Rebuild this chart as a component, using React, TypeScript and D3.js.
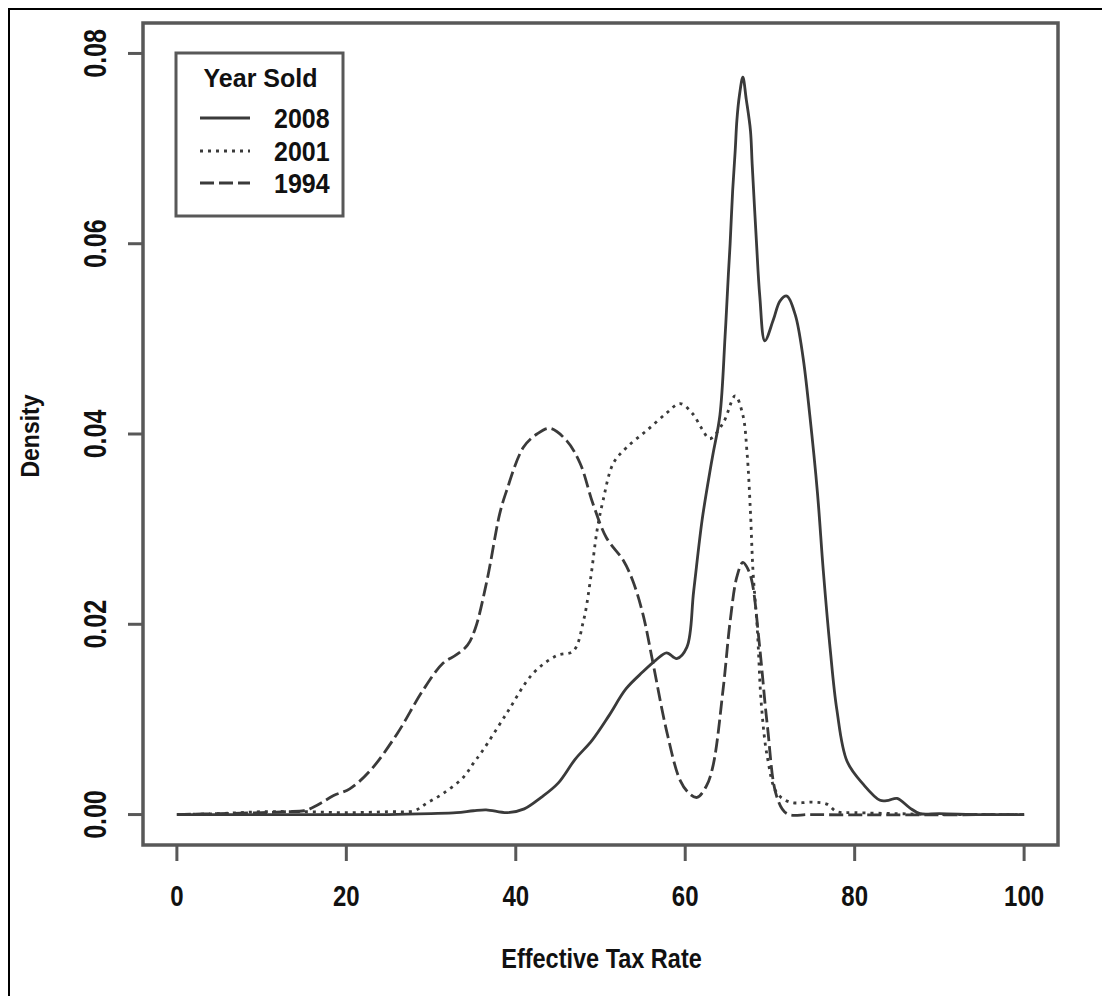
import React from "react";
import * as d3 from "d3";

// ---- data ----
const x2008 = [0, 10, 20, 25, 30, 33, 35, 36.5, 39, 41, 43, 45, 47, 49, 51, 53, 55, 56.5, 57.8, 59, 60.2, 61, 62, 63, 63.3, 64.1, 64.7, 65.1, 65.3, 65.6, 65.9, 66.1, 66.4, 66.8, 67.2, 67.7, 67.9, 68.4, 68.8, 69.4, 70.4, 71.2, 72, 73, 73.9, 74.7, 75.6, 76.3, 77.1, 77.9, 79.1, 81, 83, 84, 85, 86.5, 87.7, 90, 95, 100];
const y2008 = [0, 0, 0, 0, 0.0001, 0.0002, 0.0004, 0.0005, 0.0002, 0.0006, 0.0018, 0.0033, 0.0058, 0.0078, 0.0104, 0.0132, 0.015, 0.0162, 0.017, 0.0164, 0.0176, 0.0235, 0.031, 0.0365, 0.038, 0.042, 0.0502, 0.0569, 0.06, 0.0656, 0.0698, 0.073, 0.0756, 0.0775, 0.0752, 0.0719, 0.0684, 0.0603, 0.0545, 0.0498, 0.052, 0.054, 0.0545, 0.0525, 0.0481, 0.042, 0.0339, 0.0256, 0.0175, 0.011, 0.0056, 0.0032, 0.0015, 0.0015, 0.0017, 0.0007, 0.0001, 0.0001, 0, 0];

const x2001 = [0, 5, 10, 15, 20, 25, 28, 29.5, 31.4, 33.8, 35, 36, 38.9, 42, 44.8, 46.8, 48, 48.8, 49.6, 50.3, 51.5, 53.1, 55.5, 57.8, 59.4, 60.9, 62, 62.9, 64.5, 65.9, 66.8, 67.3, 67.7, 68, 68.5, 69, 69.7, 70.8, 72.4, 75.1, 76.7, 77.9, 80, 85, 90, 100];
const y2001 = [0, 0.0001, 0.0003, 0.0003, 0.0002, 0.0003, 0.0004, 0.0012, 0.0022, 0.0039, 0.0054, 0.0066, 0.0106, 0.0148, 0.0167, 0.0172, 0.0204, 0.0246, 0.0299, 0.033, 0.0369, 0.0386, 0.0404, 0.0422, 0.0432, 0.0421, 0.0405, 0.0395, 0.0412, 0.044, 0.042, 0.038, 0.0318, 0.0256, 0.0196, 0.0114, 0.006, 0.0023, 0.0013, 0.0013, 0.0011, 0.0003, 0.0002, 0.0001, 0, 0];

const x1994 = [0, 5, 10, 13, 15, 15.7, 17, 18.5, 20.4, 22.8, 26, 29, 31.4, 33, 34.3, 35.2, 36.6, 38.1, 38.9, 40.9, 42.5, 44, 46, 47.6, 49.1, 50.7, 52.7, 53.8, 55, 56.2, 57.8, 59.4, 60.5, 61.4, 62.5, 63.3, 64.5, 65.3, 66.1, 66.8, 67.4, 67.9, 68.8, 69.7, 70.8, 72, 75, 100];
const y1994 = [0, 0.0001, 0.0002, 0.0003, 0.0004, 0.0006, 0.0012, 0.002, 0.0027, 0.0046, 0.0085, 0.013, 0.0159, 0.0168, 0.0178, 0.0195, 0.0246, 0.0316, 0.034, 0.0386, 0.04, 0.0406, 0.0393, 0.0369, 0.0327, 0.0291, 0.0267, 0.0246, 0.0211, 0.0159, 0.0088, 0.0036, 0.0022, 0.0018, 0.003, 0.0052, 0.0134, 0.0203, 0.025, 0.0265, 0.0258, 0.0244, 0.0175, 0.0093, 0.0019, 0.0001, 0, 0];

const seriesNames = ["2008", "2001", "1994"];
const xTicks = [0, 20, 40, 60, 80, 100];
const yTicks = [0, 0.02, 0.04, 0.06, 0.08];
const legendTitle = "Year Sold";
const xTitle = "Effective Tax Rate";
const yTitle = "Density";

const INK = "#3a3a3a";
const FRAME = "#585858";
const FONT = "'Liberation Sans', Arial, Helvetica, sans-serif";

export default function App() {
  const W = 1102;
  const H = 988;
  const left = 143, right = 1058, top = 23, bottom = 845;
  const x = d3.scaleLinear().domain([-4, 104]).range([left, right]);
  const y = d3.scaleLinear().domain([-0.0032, 0.0832]).range([bottom, top]);

  const line = d3
    .line<[number, number]>()
    .x((d) => x(d[0]))
    .y((d) => y(Math.max(0, d[1])))
    .curve(d3.curveCatmullRom.alpha(0.5));

  const mk = (xs: number[], ys: number[]) => xs.map((v, i) => [v, ys[i]] as [number, number]);
  const series = [
    { name: seriesNames[0], pts: mk(x2008, y2008), dash: "none" },
    { name: seriesNames[1], pts: mk(x2001, y2001), dash: "3 5" },
    { name: seriesNames[2], pts: mk(x1994, y1994), dash: "14 5" },
  ];

  const legX = 176, legY = 53, legW = 167, legH = 163;
  const rowBase = [128, 161, 193];

  return (
    <svg width={W} height={H} style={{ display: "block" }} fontFamily={FONT}>
      <g transform="translate(-8,-8)">
        <rect x={0} y={0} width={1200} height={1100} fill="white" />
        <path d="M9,1100 V9 H1200" fill="none" stroke="#000" strokeWidth={2} />

        {/* curves */}
        <g clipPath="url(#clip)">
          {series.map((s) => (
            <path
              key={s.name}
              d={line(s.pts) || ""}
              fill="none"
              stroke={INK}
              strokeWidth={2.8}
              strokeDasharray={s.dash}
              strokeLinejoin="round"
            />
          ))}
        </g>

        {/* plot frame */}
        <rect x={left} y={top} width={right - left} height={bottom - top} fill="none" stroke={FRAME} strokeWidth={3.5} />

        {/* x axis */}
        {xTicks.map((t) => (
          <g key={"x" + t}>
            <line x1={x(t)} x2={x(t)} y1={bottom} y2={bottom + 16} stroke={FRAME} strokeWidth={3} />
            <g transform={`translate(${x(t)},906) scale(1,1.25)`}>
              <text textAnchor="middle" fontSize={24} fontWeight="bold" fill="#111">
                {t}
              </text>
            </g>
          </g>
        ))}

        {/* y axis */}
        {yTicks.map((t) => (
          <g key={"y" + t}>
            <line x1={left - 15} x2={left} y1={y(t)} y2={y(t)} stroke={FRAME} strokeWidth={3} />
            <g transform={`translate(106,${y(t)}) rotate(-90) scale(1,1.25)`}>
              <text textAnchor="middle" fontSize={25} fontWeight="bold" fill="#111">
                {t.toFixed(2)}
              </text>
            </g>
          </g>
        ))}

        {/* axis titles */}
        <g transform={`translate(${(left + right) / 2 + 1},968) scale(1,1.2)`}>
          <text textAnchor="middle" fontSize={23.5} fontWeight="bold" fill="#111">
            {xTitle}
          </text>
        </g>
        <g transform={`translate(39,${(top + bottom) / 2 + 2}) rotate(-90) scale(1,1.15)`}>
          <text textAnchor="middle" fontSize={23} fontWeight="bold" fill="#111">
            {yTitle}
          </text>
        </g>

        {/* legend */}
        <rect x={legX} y={legY} width={legW} height={legH} fill="white" stroke={FRAME} strokeWidth={3} />
        <g transform={`translate(${legX + legW / 2 + 1},87) scale(1,1.05)`}>
          <text textAnchor="middle" fontSize={25} fontWeight="bold" fill="#111">
            {legendTitle}
          </text>
        </g>
        {series.map((s, i) => (
          <g key={"leg" + s.name}>
            <line
              x1={200}
              x2={250}
              y1={rowBase[i] - 10}
              y2={rowBase[i] - 10}
              stroke={INK}
              strokeWidth={2.8}
              strokeDasharray={s.dash}
            />
            <g transform={`translate(274,${rowBase[i]}) scale(1,1.1)`}>
              <text fontSize={25} fontWeight="bold" fill="#111">
                {s.name}
              </text>
            </g>
          </g>
        ))}

        <defs>
          <clipPath id="clip">
            <rect x={left} y={top} width={right - left} height={bottom - top} />
          </clipPath>
        </defs>
      </g>
    </svg>
  );
}
